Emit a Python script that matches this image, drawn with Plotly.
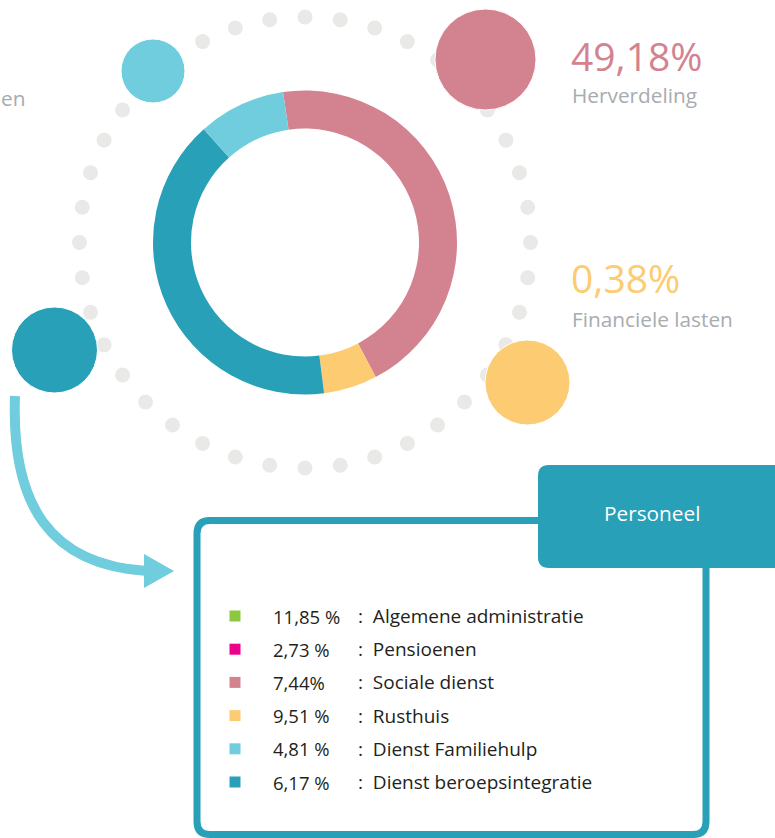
import numpy as np
import plotly.graph_objects as go

# ---- data ----
donut_labels = ["Herverdeling", "Financiele lasten", "Personeel", "Werkingskosten"]
donut_values = [44.6, 5.7, 40.4, 9.3]          # slice sizes as drawn
donut_colors = ["#D3838F", "#FCCB72", "#27A0B8", "#6FCDDD"]

callout_values = ["49,18%", "0,38%"]
callout_labels = ["Herverdeling", "Financiele lasten"]
callout_colors = ["#D3838F", "#FCCB72"]
left_label = "en"   # only the tail of this label is visible in the picture

personeel_pcts = ["11,85 %", "2,73 %", "7,44%", "9,51 %", "4,81 %", "6,17 %"]
personeel_labels = ["Algemene administratie", "Pensioenen", "Sociale dienst",
                    "Rusthuis", "Dienst Familiehulp", "Dienst beroepsintegratie"]
personeel_colors = ["#8DC63F", "#EC008C", "#D3838F", "#FCCB72", "#6FCDDD", "#27A0B8"]

W, H = 775, 838
FONT = "Open Sans"
GREY = "#A7ACB0"
TEAL = "#27A0B8"
LTEAL = "#6FCDDD"

fig = go.Figure()

# ring of grey dots
cx, cy, R = 305, 242.5, 225.5
ang = np.deg2rad(np.arange(0, 360, 9))
fig.add_trace(go.Scatter(x=cx + R * np.sin(ang), y=cy - R * np.cos(ang), mode="markers",
                         marker=dict(size=15, color="#E9E9E8", opacity=1),
                         hoverinfo="skip", showlegend=False))

# big bubbles
fig.add_trace(go.Scatter(x=[153, 485.5, 527.5, 54.5], y=[71, 59.5, 382.5, 350], mode="markers",
                         marker=dict(size=[64, 101, 85, 86], opacity=1,
                                     color=[LTEAL, "#D3838F", "#FCCB72", TEAL]),
                         hoverinfo="skip", showlegend=False))

# donut
fig.add_trace(go.Pie(values=donut_values, labels=donut_labels, sort=False,
                     direction="clockwise", rotation=-8.3, hole=0.75,
                     marker=dict(colors=donut_colors, line=dict(width=0)),
                     textinfo="none", showlegend=False,
                     domain=dict(x=[153 / W, 457 / W], y=[1 - 394.5 / H, 1 - 90.5 / H])))

# legend squares
row_y = [616 + 33.2 * i for i in range(len(personeel_pcts))]
fig.add_trace(go.Scatter(x=[235] * len(row_y), y=row_y, mode="markers",
                         marker=dict(symbol="square", size=11, color=personeel_colors, opacity=1),
                         hoverinfo="skip", showlegend=False))

shapes = []
# legend box outline
l, t, r, b, c = 197, 520.5, 706, 834.5, 13
shapes.append(dict(type="path", xref="x", yref="y",
                   path=f"M {l+c},{t} L {r-c},{t} Q {r},{t} {r},{t+c} L {r},{b-c} Q {r},{b} {r-c},{b} "
                        f"L {l+c},{b} Q {l},{b} {l},{b-c} L {l},{t+c} Q {l},{t} {l+c},{t} Z",
                   line=dict(color=TEAL, width=7), fillcolor="rgba(0,0,0,0)"))
# tab
l2, t2, r2, b2, c2 = 538, 465, 800, 568, 11
shapes.append(dict(type="path", xref="x", yref="y",
                   path=f"M {l2+c2},{t2} L {r2},{t2} L {r2},{b2} L {l2+c2},{b2} Q {l2},{b2} {l2},{b2-c2} "
                        f"L {l2},{t2+c2} Q {l2},{t2} {l2+c2},{t2} Z",
                   line=dict(width=0), fillcolor=TEAL))
# curved arrow
shapes.append(dict(type="path", xref="x", yref="y",
                   path="M 15,396 C 11,505 50,565 147,571",
                   line=dict(color=LTEAL, width=10), fillcolor="rgba(0,0,0,0)"))
shapes.append(dict(type="path", xref="x", yref="y",
                   path="M 144,554 L 174,571 L 144,588 Z",
                   line=dict(width=0), fillcolor=LTEAL))

ann = []
# call-outs on the right
for val, lab, col, yv, yl in zip(callout_values, callout_labels, callout_colors, [55, 277], [95, 319]):
    ann.append(dict(x=569, y=yv, text=val, xanchor="left", yanchor="middle", showarrow=False,
                    font=dict(family=FONT, size=39, color=col)))
    ann.append(dict(x=570, y=yl, text=lab, xanchor="left", yanchor="middle", showarrow=False,
                    font=dict(family=FONT, size=20.8, color=GREY)))
# cut-off label on the left
ann.append(dict(x=0, y=98, text=left_label, xanchor="left", yanchor="middle", showarrow=False,
                borderpad=0, font=dict(family=FONT, size=20.8, color=GREY)))
# tab title
ann.append(dict(x=651.5, y=513, text="Personeel", xanchor="center", yanchor="middle", showarrow=False,
                font=dict(family=FONT, size=20.8, color="white")))
# legend rows
for p, lab, yy in zip(personeel_pcts, personeel_labels, row_y):
    ann.append(dict(x=271, y=yy, text=p, xanchor="left", yanchor="middle", showarrow=False,
                    font=dict(family=FONT, size=18.5, color="#231F20")))
    ann.append(dict(x=356, y=yy, text=":  " + lab, xanchor="left", yanchor="middle", showarrow=False,
                    font=dict(family=FONT, size=19, color="#231F20")))

fig.update_layout(width=W, height=H, autosize=False, margin=dict(l=0, r=0, t=0, b=0),
                  paper_bgcolor="white", plot_bgcolor="white",
                  xaxis=dict(range=[0, W], visible=False, fixedrange=True),
                  yaxis=dict(range=[H, 0], visible=False, fixedrange=True),
                  shapes=shapes, annotations=ann, showlegend=False)

fig.write_html("out.html", config={"displayModeBar": False},
               post_script="document.body.style.margin='0';document.body.style.overflow='hidden';")
